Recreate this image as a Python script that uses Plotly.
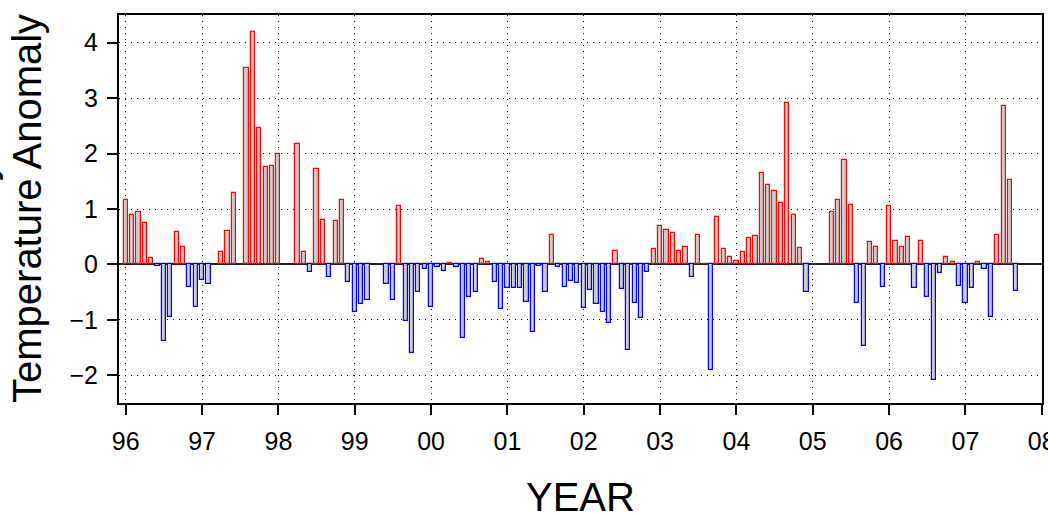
import plotly.graph_objects as go

# Monthly temperature anomalies, January .. December of each year (None = no data)
anom_1996 = [1.17, 0.90, 0.94, 0.74, 0.12, -0.02, -1.39, -0.95, 0.58, 0.31, -0.40, -0.77]
anom_1997 = [-0.28, -0.36, None, 0.22, 0.61, 1.29, None, 3.55, 4.20, 2.46, 1.75, 1.78]
anom_1998 = [2.00, None, None, 2.18, 0.23, -0.13, 1.73, 0.80, -0.22, 0.79, 1.17, -0.32]
anom_1999 = [-0.85, -0.71, -0.64, None, None, -0.35, -0.65, 1.06, -1.02, -1.59, -0.49, -0.09]
anom_2000 = [-0.76, -0.04, -0.11, 0.02, -0.04, -1.33, -0.58, -0.49, 0.09, 0.05, -0.31, -0.81]
anom_2001 = [-0.43, -0.43, -0.43, -0.68, -1.21, -0.02, -0.50, 0.53, -0.04, -0.40, -0.29, -0.34]
anom_2002 = [-0.79, -0.47, -0.72, -0.85, -1.06, 0.25, -0.45, -1.54, -0.69, -0.97, -0.13, 0.27]
anom_2003 = [0.70, 0.63, 0.56, 0.25, 0.32, -0.22, 0.53, 0.01, -1.91, 0.85, 0.27, 0.13]
anom_2004 = [0.07, 0.23, 0.47, 0.52, 1.65, 1.44, 1.33, 1.11, 2.92, 0.90, 0.30, -0.50]
anom_2005 = [None, None, None, 0.94, 1.17, 1.89, 1.08, -0.70, -1.47, 0.40, 0.31, -0.40]
anom_2006 = [1.06, 0.42, 0.31, 0.49, -0.43, 0.43, -0.59, -2.09, -0.16, 0.13, 0.05, -0.39]
anom_2007 = [-0.70, -0.43, 0.05, -0.08, -0.94, 0.53, 2.86, 1.53, -0.48]

years = list(range(1996, 2008))
yearly = [anom_1996, anom_1997, anom_1998, anom_1999, anom_2000, anom_2001,
          anom_2002, anom_2003, anom_2004, anom_2005, anom_2006, anom_2007]

year_ticks = list(range(1996, 2009))
year_labels = ["96", "97", "98", "99", "00", "01", "02", "03", "04", "05", "06", "07", "08"]
y_ticks = [-2, -1, 0, 1, 2, 3, 4]

# decimal-year position of every month and its value
xs, vals = [], []
for yr, months in zip(years, yearly):
    for m, v in enumerate(months):
        xs.append(yr + m / 12.0)
        vals.append(v)

outline = ["#ff0000" if (v is not None and v >= 0) else "#0000ff" for v in vals]

FONT = "Liberation Sans, Arial, sans-serif"

fig = go.Figure(
    go.Bar(
        x=xs,
        y=vals,
        width=0.055,
        marker=dict(color="#cccccc", line=dict(color=outline, width=1.2)),
        showlegend=False,
    )
)

axis_common = dict(
    showline=True, linecolor="black", linewidth=2, mirror=True,
    ticks="outside", ticklen=10, tickwidth=1.5, tickcolor="black",
    showgrid=True, gridcolor="black", gridwidth=1, griddash="1px,5px",
    tickfont=dict(family=FONT, size=25, color="black"),
    ticklabeloverflow="allow", automargin=False,
)

fig.update_xaxes(
    range=[1995.912, 2008.003], tickmode="array", tickvals=year_ticks,
    ticktext=year_labels, zeroline=False, ticklabelstandoff=5, **axis_common,
)
fig.update_yaxes(
    range=[-2.5, 4.5], tickmode="array", tickvals=y_ticks,
    zeroline=True, zerolinecolor="#222222", zerolinewidth=1.8,
    ticklabelstandoff=4, **axis_common,
)

plot_w = 1048 - 119 - 6
plot_h = 514 - 15 - 111
fig.add_annotation(
    text="Temperature Anomaly", textangle=-90, showarrow=False,
    xref="paper", yref="paper", x=(27 - 119) / plot_w, y=0.5,
    xanchor="center", yanchor="middle",
    font=dict(family=FONT, size=40, color="black"),
)
fig.add_annotation(
    text="Monthly", textangle=-90, showarrow=False,
    xref="paper", yref="paper", x=(-19 - 119) / plot_w, y=0.5, yshift=-22,
    xanchor="center", yanchor="middle",
    font=dict(family=FONT, size=40, color="black"),
)
fig.add_annotation(
    text="YEAR", showarrow=False,
    xref="paper", yref="paper", x=0.5, y=(403 - 497) / plot_h,
    xanchor="center", yanchor="middle",
    font=dict(family=FONT, size=40, color="black"),
)

fig.update_layout(
    width=1048, height=514,
    margin=dict(l=119, r=6, t=15, b=111, autoexpand=False),
    plot_bgcolor="white", paper_bgcolor="white",
    bargap=0,
)

fig.write_html("out.html")
